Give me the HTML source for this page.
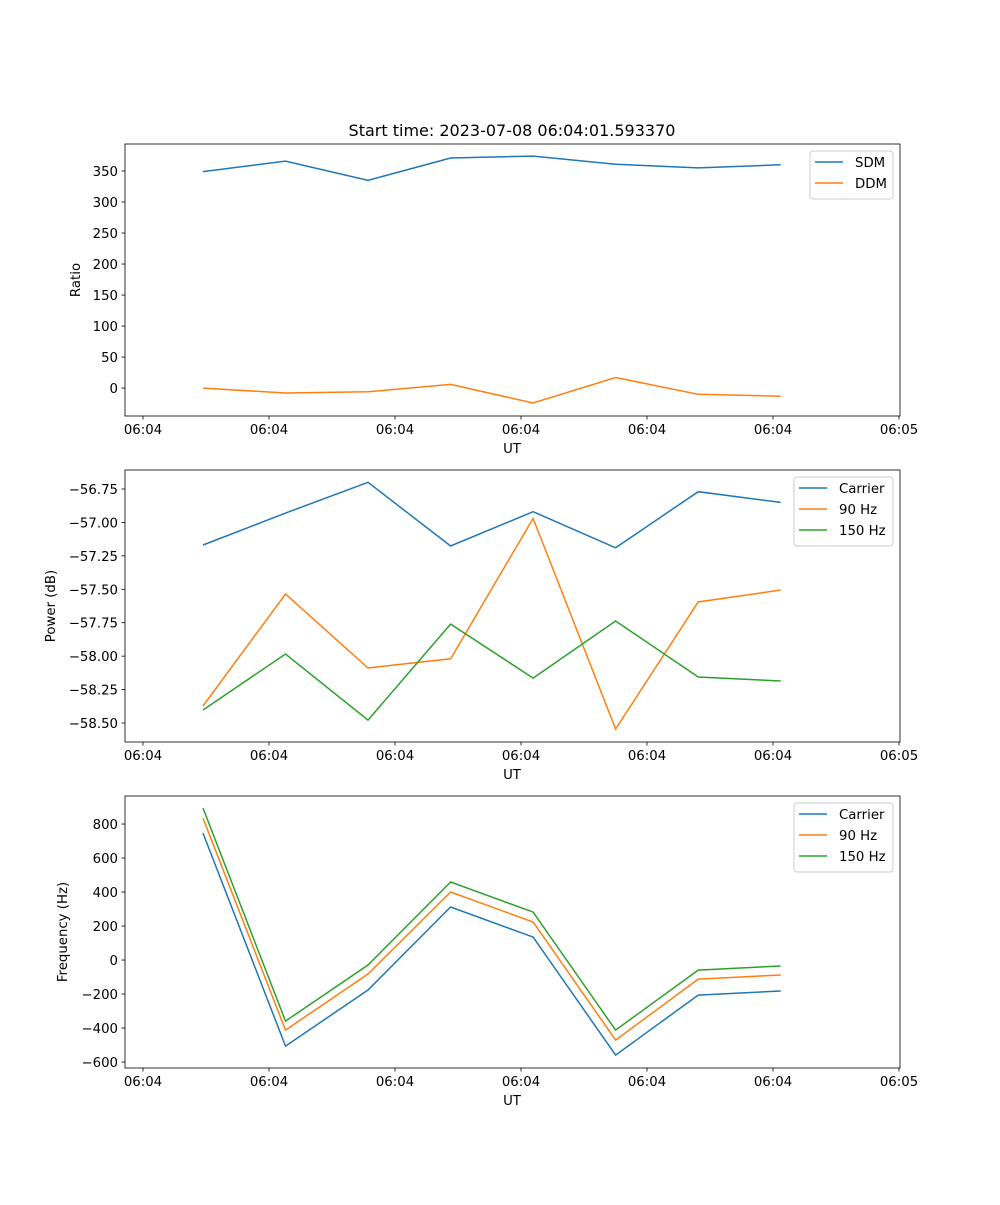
<!DOCTYPE html>
<html><head><meta charset="utf-8"><style>
html,body{margin:0;padding:0;background:#fff}
svg text{font-family:"DejaVu Sans","Liberation Sans",sans-serif;font-size:13.3px;fill:#000}
</style></head><body>
<svg id="fig" width="1000" height="1200" xmlns="http://www.w3.org/2000/svg">
<rect width="1000" height="1200" fill="#fff"/>
<text x="512" y="136" text-anchor="middle" style="font-size:16px">Start time: 2023-07-08 06:04:01.593370</text>
</svg>
<script>
// shared x data (seconds after 06:04:00)
const xTickVals = [0,10,20,30,40,50,60];
const xTickLabels = ["06:04","06:04","06:04","06:04","06:04","06:04","06:05"];
const times = [4.76,11.31,17.86,24.41,30.96,37.51,44.06,50.61];
// panel 1
const sdm = [349,366,335,371,374,361,355,360];
const ddm = [0,-8,-6,6,-24,17,-10,-13];
const p1Ticks = [0,50,100,150,200,250,300,350];
// panel 2
const pCarrier = [-57.169,-56.93,-56.70,-57.176,-56.92,-57.19,-56.77,-56.85];
const p90 = [-58.373,-57.535,-58.089,-58.02,-56.97,-58.545,-57.595,-57.505];
const p150 = [-58.403,-57.984,-58.478,-57.76,-58.164,-57.737,-58.156,-58.186];
const p2Ticks = [-58.5,-58.25,-58.0,-57.75,-57.5,-57.25,-57.0,-56.75];
// panel 3
const fCarrier = [747,-506,-176,312,135,-559,-206,-182];
const f90 = [835,-412,-82,400,224,-471,-112,-88];
const f150 = [894,-359,-29,459,282,-412,-59,-35];
const p3Ticks = [-600,-400,-200,0,200,400,600,800];

const NS="http://www.w3.org/2000/svg";
const svg=document.getElementById('fig');
function mk(tag,attrs,parent){const e=document.createElementNS(NS,tag);for(const k in attrs)e.setAttribute(k,attrs[k]);(parent||svg).appendChild(e);return e;}
const L=125,R=900;
const xs=t=>143+(t-0)*12.6;
const C={blue:"#1f77b4",orange:"#ff7f0e",green:"#2ca02c"};

function panel(name,top,bot,ymin,ymax,ticks,fmt,ylabel,series,leg){
  const g=mk('g',{});
  
  
  const ys=v=>bot-(v-ymin)/(ymax-ymin)*(bot-top);
  series.forEach(s=>{
    const d=s.vals.map((v,i)=>(i?'L':'M')+xs(times[i]).toFixed(1)+','+ys(v).toFixed(1)).join('');
    const p=mk('path',{d:d,fill:'none',stroke:s.color,'stroke-width':1.5},g);
    
    
  });
  const fr=mk('rect',{x:L,y:top,width:R-L,height:bot-top,fill:'none',stroke:'#000','stroke-width':0.8},g);
  
  
  xTickVals.forEach((t,i)=>{
    const x=xs(t);
    mk('line',{x1:x,x2:x,y1:bot,y2:bot+3.5,stroke:'#000','stroke-width':0.8},g);
    const tx=mk('text',{x:x,y:bot+18,'text-anchor':'middle'},g);tx.textContent=xTickLabels[i];
    
    
  });
  ticks.forEach(v=>{
    const y=ys(v);
    mk('line',{x1:L,x2:L-3.5,y1:y,y2:y,stroke:'#000','stroke-width':0.8},g);
    const tx=mk('text',{x:L-7,y:y+5,'text-anchor':'end'},g);tx.textContent=fmt(v);
    
    
  });
  const xl=mk('text',{x:512,y:bot+37,'text-anchor':'middle'},g);xl.textContent='UT';
  
  
  const yl=mk('text',{x:0,y:0,'text-anchor':'middle',transform:`translate(${leg.ylx},${(top+bot)/2}) rotate(-90)`},g);yl.textContent=ylabel;
  
  
  const lg=mk('g',{},g);
  
  
  const h=series.length*21+6;
  mk('rect',{x:leg.x,y:top+7,width:893-leg.x,height:h,rx:3,fill:'#fff','fill-opacity':0.8,stroke:'#ccc'},lg);
  series.forEach((s,i)=>{
    const y=top+18+i*21;
    mk('line',{x1:leg.x+5,x2:leg.x+33,y1:y,y2:y,stroke:s.color,'stroke-width':1.5},lg);
    const t=mk('text',{x:leg.x+45,y:y+5},lg);t.textContent=s.label;
    
    
  });
}
panel('ratio',144,416,-45,393.5,p1Ticks,v=>String(v),'Ratio',
  [{key:'sdm',label:'SDM',vals:sdm,color:C.blue},{key:'ddm',label:'DDM',vals:ddm,color:C.orange}],{x:810,ylx:80});
panel('power',470,742,-58.642,-56.608,p2Ticks,v=>v.toFixed(2).replace('-','\u2212'),'Power (dB)',
  [{key:'carrier',label:'Carrier',vals:pCarrier,color:C.blue},{key:'90hz',label:'90 Hz',vals:p90,color:C.orange},{key:'150hz',label:'150 Hz',vals:p150,color:C.green}],{x:794,ylx:55});
panel('frequency',796,1068,-635,965,p3Ticks,v=>String(v).replace('-','\u2212'),'Frequency (Hz)',
  [{key:'carrier',label:'Carrier',vals:fCarrier,color:C.blue},{key:'90hz',label:'90 Hz',vals:f90,color:C.orange},{key:'150hz',label:'150 Hz',vals:f150,color:C.green}],{x:794,ylx:67});
</script>
</body></html>
